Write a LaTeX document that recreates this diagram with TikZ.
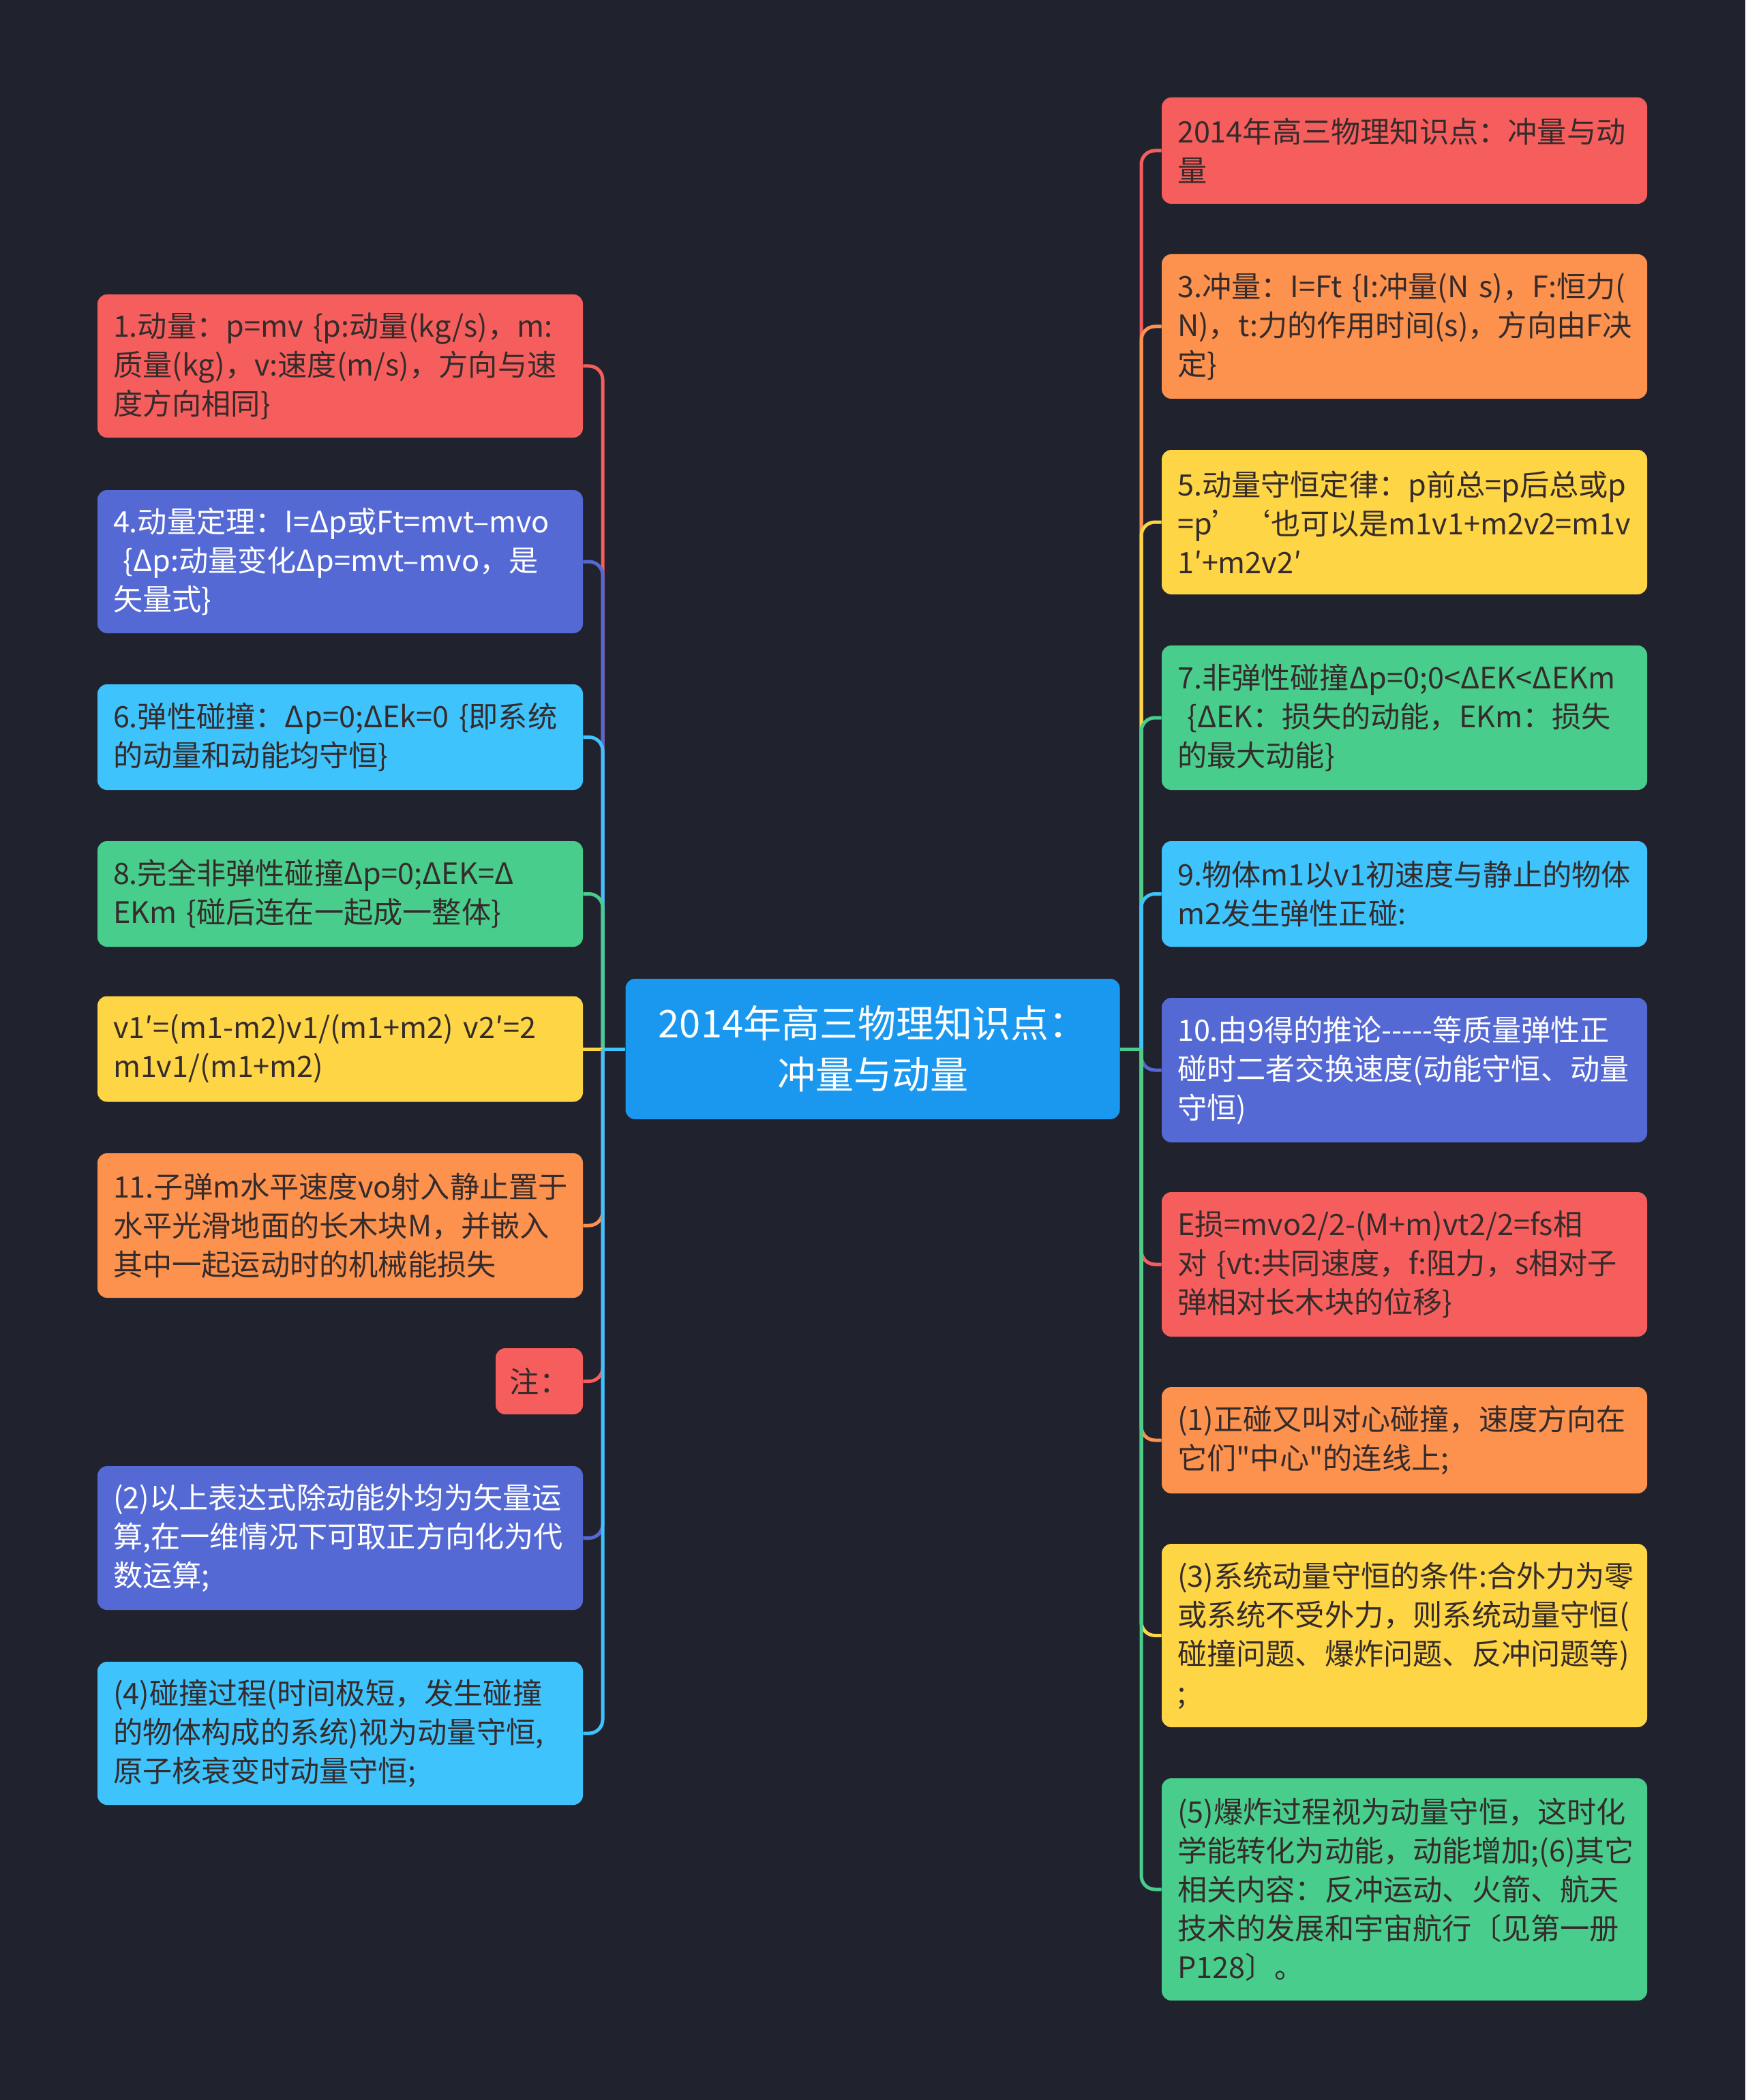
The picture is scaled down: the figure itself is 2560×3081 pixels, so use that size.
\documentclass[tikz,border=0pt]{standalone}
\usepackage{fontspec}
\setmainfont{Noto Sans CJK SC}[Ligatures=TeXOff]
\newcommand\TL[1]{\mbox{#1}}
\definecolor{bg}{HTML}{20232E}
\definecolor{cRed}{HTML}{F65E5E}
\definecolor{cOrange}{HTML}{FD924F}
\definecolor{cYellow}{HTML}{FED544}
\definecolor{cGreen}{HTML}{49CD8D}
\definecolor{cCyan}{HTML}{3EC3FD}
\definecolor{cPurple}{HTML}{5569D5}
\definecolor{cCenter}{HTML}{1A98EF}
\definecolor{dk}{HTML}{352B2B}
\tikzset{
  box/.style={rectangle, rounded corners=7pt, inner xsep=11pt, inner ysep=0pt,
    text width=333pt, align=left, minimum width=356pt,
    font=\fontsize{21.6pt}{28.5pt}\selectfont},
  dark/.style={text=dk},
  light/.style={text=white},
  conn/.style={line width=2.5pt, rounded corners=10pt},
}
\begin{document}
\begin{tikzpicture}[x=0.5pt,y=-0.5pt]
\fill[bg] (0,0) rectangle (2560,3081);
\useasboundingbox (0,0) rectangle (2560,3081);

% center
\node[rectangle, rounded corners=7pt, fill=cCenter, text=white, minimum width=362.5pt, minimum height=103pt,
  align=center, font=\fontsize{28pt}{37.5pt}\selectfont] (C) at (1280,1539)
  {2014年高三物理知识点：\\冲量与动量};

\coordinate (LT) at (884,1539);
\coordinate (RT) at (1674,1539);

% left nodes
\node[box, fill=cRed, dark, minimum height=105pt] (L1) at (499,537)
 {\TL{1.动量：p=mv \{p:动量(kg/s)，m:}\\\TL{质量(kg)，v:速度(m/s)，方向与速}\\\TL{度方向相同\}}};
\node[box, fill=cPurple, light, minimum height=105pt] (L2) at (499,824)
 {\TL{4.动量定理：I=Δp或Ft=mvt–mvo}\\\TL{ \{Δp:动量变化Δp=mvt–mvo，是}\\\TL{矢量式\}}};
\node[box, fill=cCyan, dark, minimum height=77.5pt] (L3) at (499,1081.5)
 {\TL{6.弹性碰撞：Δp=0;ΔEk=0 \{即系统}\\\TL{的动量和动能均守恒\}}};
\node[box, fill=cGreen, dark, minimum height=77.5pt] (L4) at (499,1311.5)
 {\TL{8.完全非弹性碰撞Δp=0;ΔEK=Δ}\\\TL{EKm \{碰后连在一起成一整体\}}};
\node[box, fill=cYellow, dark, minimum height=77.5pt] (L5) at (499,1539)
 {\TL{v1′=(m1-m2)v1/(m1+m2) v2′=2}\\\TL{m1v1/(m1+m2)}};
\node[box, fill=cOrange, dark, minimum height=106pt] (L6) at (499,1798)
 {\TL{11.子弹m水平速度vo射入静止置于}\\\TL{水平光滑地面的长木块M，并嵌入}\\\TL{其中一起运动时的机械能损失}};
\node[rectangle, rounded corners=7pt, fill=cRed, dark, inner sep=0pt, minimum width=64pt, minimum height=48.5pt,
  font=\fontsize{21.6pt}{28.5pt}\selectfont] (L7) at (791,2026.5) {注：};
\node[box, fill=cPurple, light, minimum height=105.5pt] (L8) at (499,2256.5)
 {\TL{(2)以上表达式除动能外均为矢量运}\\\TL{算,在一维情况下可取正方向化为代}\\\TL{数运算;}};
\node[box, fill=cCyan, dark, minimum height=105pt] (L9) at (499,2543)
 {\TL{(4)碰撞过程(时间极短，发生碰撞}\\\TL{的物体构成的系统)视为动量守恒,}\\\TL{原子核衰变时动量守恒;}};

% right nodes
\node[box, fill=cRed, dark, minimum height=78pt] (R1) at (2060,221)
 {\TL{2014年高三物理知识点：冲量与动}\\\TL{量}};
\node[box, fill=cOrange, dark, minimum height=106pt] (R2) at (2060,479)
 {\TL{3.冲量：I=Ft \{I:冲量(N s)，F:恒力(}\\\TL{N)，t:力的作用时间(s)，方向由F决}\\\TL{定\}}};
\node[box, fill=cYellow, dark, minimum height=106pt] (R3) at (2060,766)
 {\TL{5.动量守恒定律：p前总=p后总或p}\\\TL{=p’‘也可以是m1v1+m2v2=m1v}\\\TL{1′+m2v2′}};
\node[box, fill=cGreen, dark, minimum height=106pt] (R4) at (2060,1053)
 {\TL{7.非弹性碰撞Δp=0;0<ΔEK<ΔEKm}\\\TL{ \{ΔEK：损失的动能，EKm：损失}\\\TL{的最大动能\}}};
\node[box, fill=cCyan, dark, minimum height=77.5pt] (R5) at (2060,1311.5)
 {\TL{9.物体m1以v1初速度与静止的物体}\\\TL{m2发生弹性正碰:}};
\node[box, fill=cPurple, light, minimum height=106pt] (R6) at (2060,1570)
 {\TL{10.由9得的推论-----等质量弹性正}\\\TL{碰时二者交换速度(动能守恒、动量}\\\TL{守恒)}};
\node[box, fill=cRed, dark, minimum height=106pt] (R7) at (2060,1855)
 {\TL{E损=mvo2/2-(M+m)vt2/2=fs相}\\\TL{对 \{vt:共同速度，f:阻力，s相对子}\\\TL{弹相对长木块的位移\}}};
\node[box, fill=cOrange, dark, minimum height=78pt] (R8) at (2060,2113)
 {\TL{(1)正碰又叫对心碰撞，速度方向在}\\\TL{它们"中心"的连线上;}};
\node[box, fill=cYellow, dark, minimum height=134.5pt] (R9) at (2060,2399.5)
 {\TL{(3)系统动量守恒的条件:合外力为零}\\\TL{或系统不受外力，则系统动量守恒(}\\\TL{碰撞问题、爆炸问题、反冲问题等)}\\\TL{;}};
\node[box, fill=cGreen, dark, minimum height=163pt] (R10) at (2060,2772)
 {\TL{(5)爆炸过程视为动量守恒，这时化}\\\TL{学能转化为动能，动能增加;(6)其它}\\\TL{相关内容：反冲运动、火箭、航天}\\\TL{技术的发展和宇宙航行〔见第一册}\\\TL{P128〕。}};

% left connectors (drawn top to bottom)
\draw[conn, cRed] (L1.east) -| (LT);
\draw[conn, cPurple] (L2.east) -| (LT);
\draw[conn, cCyan] (L3.east) -| (LT);
\draw[conn, cGreen] (L4.east) -| (LT);
\draw[conn, cYellow] (L5.east) -- (LT);
\draw[conn, cOrange] (L6.east) -| (LT);
\draw[conn, cRed] (L7.east) -| (LT);
\draw[conn, cPurple] (L8.east) -| (LT);
\draw[conn, cCyan] (L9.east) -| (LT);
\draw[conn, cCyan] (C.west) -- (LT);

% right connectors
\draw[conn, cRed] (R1.west) -| (RT);
\draw[conn, cOrange] (R2.west) -| (RT);
\draw[conn, cYellow] (R3.west) -| (RT);
\draw[conn, cGreen] (R4.west) -| (RT);
\draw[conn, cCyan] (R5.west) -| (RT);
\draw[conn, cPurple] (R6.west) -| (RT);
\draw[conn, cRed] (R7.west) -| (RT);
\draw[conn, cOrange] (R8.west) -| (RT);
\draw[conn, cYellow] (R9.west) -| (RT);
\draw[conn, cGreen] (R10.west) -| (RT);
\draw[conn, cGreen] (C.east) -- (RT);
\end{tikzpicture}
\end{document}
